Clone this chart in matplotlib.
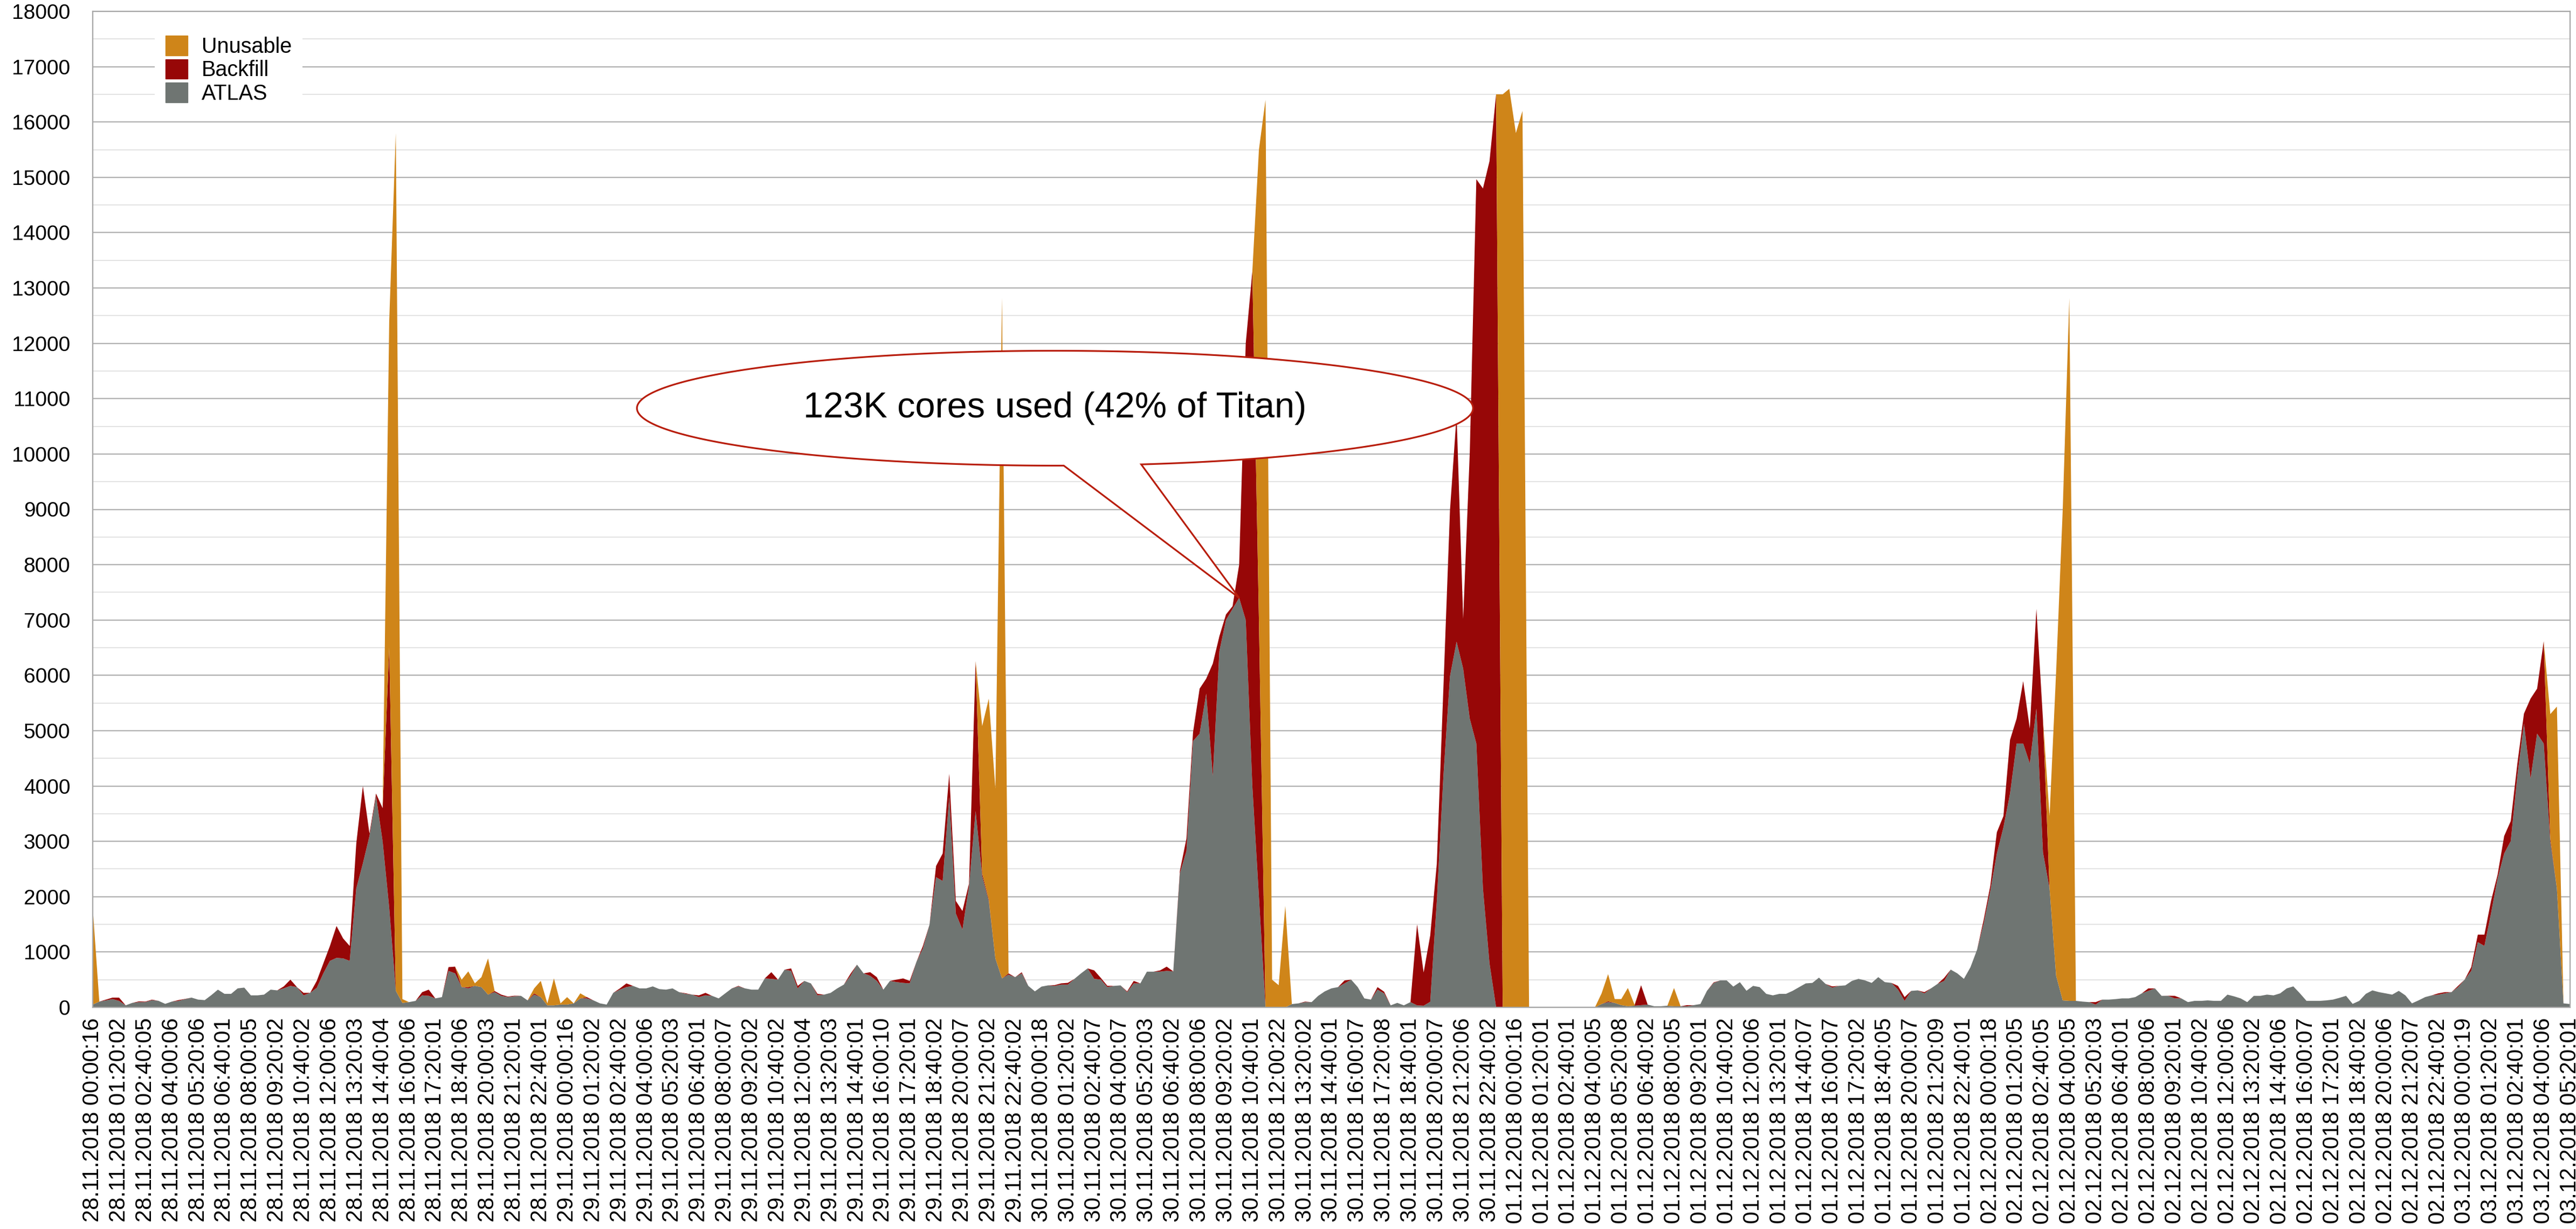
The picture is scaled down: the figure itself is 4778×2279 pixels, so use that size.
import numpy as np
import matplotlib.pyplot as plt
from matplotlib.path import Path
from matplotlib.patches import PathPatch, Patch
from matplotlib.ticker import MultipleLocator

plt.rcParams['font.family'] = ['Liberation Sans', 'DejaVu Sans']

# Titan core usage, one sample every 20 minutes from 28.11.2018 00:00
step_min = 20

atlas = [
    50, 104, 126, 149, 117, 36, 81, 95, 95, 131,
    117, 63, 104, 117, 149, 176, 140, 131, 221, 320,
    244, 244, 343, 357, 217, 217, 230, 320, 307, 343,
    388, 366, 217, 262, 352, 614, 840, 894, 885, 840,
    2149, 2600, 3097, 3819, 3000, 1800, 300, 80, 95, 117,
    217, 208, 162, 185, 659, 614, 366, 343, 390, 366,
    230, 275, 208, 185, 200, 208, 126, 230, 185, 36,
    36, 50, 50, 72, 162, 162, 126, 72, 50, 262,
    320, 366, 388, 343, 343, 379, 330, 320, 343, 275,
    244, 230, 185, 217, 208, 162, 253, 343, 379, 343,
    320, 320, 523, 515, 501, 681, 659, 343, 478, 433,
    217, 230, 262, 343, 411, 569, 772, 614, 569, 478,
    320, 478, 456, 442, 433, 817, 1065, 1494, 2352, 2284,
    3800, 1697, 1404, 2194, 3548, 2374, 1923, 885, 523, 591,
    546, 614, 388, 289, 375, 397, 388, 411, 411, 515,
    614, 704, 515, 501, 366, 388, 397, 275, 433, 433,
    645, 645, 645, 659, 650, 2420, 2826, 4812, 4947, 5670,
    4180, 6437, 7000, 7200, 7400, 7000, 4000, 2000, 0, 0,
    0, 0, 59, 72, 95, 95, 208, 289, 343, 366,
    433, 501, 366, 162, 140, 320, 253, 36, 81, 36,
    95, 36, 30, 100, 1923, 4180, 5986, 6609, 6121, 5218,
    4767, 2149, 794, 0, 0, 0, 0, 0, 0, 0,
    0, 0, 0, 0, 0, 0, 0, 0, 0, 60,
    95, 80, 40, 20, 30, 40, 50, 20, 20, 30,
    20, 20, 20, 40, 60, 298, 440, 487, 487, 375,
    455, 300, 388, 366, 244, 217, 244, 244, 298, 366,
    433, 442, 537, 424, 357, 388, 397, 478, 515, 487,
    442, 546, 456, 442, 320, 117, 298, 307, 253, 343,
    424, 478, 682, 614, 515, 727, 1043, 1517, 2104, 2781,
    3254, 3864, 4767, 4767, 4406, 5400, 2800, 2149, 569, 126,
    117, 117, 104, 95, 50, 140, 140, 149, 162, 162,
    185, 253, 298, 343, 208, 208, 162, 162, 95, 117,
    117, 126, 117, 117, 230, 199, 162, 95, 208, 208,
    230, 217, 253, 343, 379, 253, 117, 117, 117, 126,
    140, 172, 208, 63, 117, 244, 307, 275, 253, 230,
    298, 217, 72, 126, 185, 217, 230, 253, 275, 366,
    501, 659, 1178, 1110, 1697, 2329, 2781, 3006, 4180, 5128,
    4135, 4947, 4767, 3000, 2149, 72, 60,
]

backfill = [
    0, 0, 14, 27, 59, 0, 0, 13, 9, 9,
    0, 0, 0, 14, 4, 0, 0, 0, 0, 0,
    0, 0, 0, 0, 0, 0, 0, 0, 0, 36,
    113, 0, 45, 0, 126, 180, 270, 576, 361, 270,
    812, 1400, 45, 45, 600, 4700, 0, 0, 0, 0,
    58, 112, 0, 0, 68, 122, 0, 23, 0, 0,
    0, 20, 22, 10, 10, 0, 0, 23, 0, 0,
    0, 0, 0, 0, 0, 23, 0, 0, 0, 0,
    22, 67, 0, 0, 0, 0, 0, 0, 0, 0,
    10, 0, 32, 45, 0, 0, 0, 0, 9, 0,
    0, 0, 0, 121, 0, 0, 45, 45, 0, 0,
    27, 0, 0, 0, 0, 36, 0, 0, 67, 68,
    0, 0, 45, 81, 45, 0, 45, 0, 203, 497,
    420, 226, 338, 45, 2708, 46, 22, 0, 0, 23,
    0, 20, 0, 0, 0, 0, 14, 23, 32, 0,
    0, 0, 153, 32, 23, 0, 0, 14, 45, 0,
    0, 0, 23, 77, 0, 45, 225, 158, 813, 270,
    2032, 271, 100, 50, 600, 5000, 9300, 5000, 0, 0,
    0, 0, 0, 0, 9, 0, 0, 0, 0, 0,
    54, 0, 0, 0, 0, 46, 30, 0, 0, 0,
    0, 1464, 600, 1200, 677, 1600, 3000, 4100, 900, 4800,
    10200, 12650, 14500, 16500, 0, 0, 0, 0, 0, 0,
    0, 0, 0, 0, 0, 0, 0, 0, 0, 0,
    15, 0, 0, 0, 0, 360, 0, 0, 0, 0,
    0, 0, 20, 0, 0, 0, 10, 0, 0, 0,
    0, 0, 0, 0, 0, 0, 0, 0, 0, 0,
    0, 0, 0, 0, 22, 0, 0, 0, 0, 0,
    0, 0, 0, 0, 68, 68, 0, 0, 22, 0,
    0, 55, 0, 0, 0, 0, 0, 67, 90, 383,
    204, 970, 451, 1128, 632, 1800, 2400, 0, 0, 0,
    0, 0, 0, 0, 45, 0, 0, 0, 0, 0,
    0, 0, 45, 0, 0, 2, 46, 0, 0, 0,
    0, 0, 0, 0, 0, 0, 0, 0, 0, 0,
    0, 0, 0, 0, 0, 0, 0, 0, 0, 0,
    0, 0, 0, 0, 0, 0, 0, 0, 0, 0,
    0, 0, 0, 0, 0, 0, 23, 22, 0, 22,
    0, 68, 136, 204, 226, 68, 316, 361, 226, 180,
    1444, 813, 1850, 50, 0, 0, 0,
]

unusable = [
    1750, 0, 0, 0, 0, 0, 0, 0, 0, 0, 0, 0, 0, 0, 0, 0, 0, 0, 0, 0,
    0, 0, 0, 0, 0, 0, 0, 0, 0, 0, 0, 0, 0, 0, 0, 0, 0, 0, 0, 0,
    0, 0, 0, 0, 0, 5900, 15500, 70, 0, 0, 0, 0, 0, 0, 0, 0, 135, 284, 45, 180,
    655, 0, 0, 0, 0, 0, 0, 90, 293, 36, 487, 22, 135, 0, 91, 0, 0, 0, 0, 0,
    0, 0, 0, 0, 0, 0, 0, 0, 0, 0, 0, 0, 0, 0, 0, 0, 0, 0, 0, 0,
    0, 0, 0, 0, 0, 0, 0, 0, 0, 0, 0, 0, 0, 0, 0, 0, 0, 0, 0, 0,
    0, 0, 0, 0, 0, 0, 0, 0, 0, 0, 0, 0, 0, 0, 0, 2663, 3634, 3069, 12300, 0,
    0, 0, 0, 0, 0, 0, 0, 0, 0, 0, 0, 0, 0, 0, 0, 0, 0, 0, 0, 0,
    0, 0, 0, 0, 0, 0, 0, 0, 0, 0, 0, 0, 0, 0, 0, 0, 0, 8500, 16400, 500,
    400, 1833, 0, 0, 0, 0, 0, 0, 0, 0, 0, 0, 0, 0, 0, 0, 0, 0, 0, 0,
    0, 0, 0, 0, 0, 0, 0, 0, 0, 0, 0, 0, 0, 0, 16500, 16600, 15800, 16200, 0, 0,
    0, 0, 0, 0, 0, 0, 0, 0, 0, 190, 490, 70, 110, 330, 20, 0, 0, 0, 0, 0,
    330, 0, 0, 0, 0, 0, 0, 0, 0, 0, 0, 0, 0, 0, 0, 0, 0, 0, 0, 0,
    0, 0, 0, 0, 0, 0, 0, 0, 0, 0, 0, 0, 0, 0, 0, 0, 0, 0, 0, 0,
    0, 0, 0, 0, 0, 0, 0, 0, 0, 0, 0, 0, 0, 0, 0, 0, 0, 1309, 5507, 8874,
    12700, 0, 0, 0, 0, 0, 0, 0, 0, 0, 0, 0, 0, 0, 0, 0, 0, 0, 0, 0,
    0, 0, 0, 0, 0, 0, 0, 0, 0, 0, 0, 0, 0, 0, 0, 0, 0, 0, 0, 0,
    0, 0, 0, 0, 0, 0, 0, 0, 0, 0, 0, 0, 0, 0, 0, 0, 0, 0, 0, 0,
    0, 0, 0, 0, 0, 0, 0, 0, 0, 0, 0, 0, 0, 2250, 3286, 0, 0,
]

tick_labels = [
    "28.11.2018 00:00:16", "28.11.2018 01:20:02", "28.11.2018 02:40:05", "28.11.2018 04:00:06",
    "28.11.2018 05:20:06", "28.11.2018 06:40:01", "28.11.2018 08:00:05", "28.11.2018 09:20:02",
    "28.11.2018 10:40:02", "28.11.2018 12:00:06", "28.11.2018 13:20:03", "28.11.2018 14:40:04",
    "28.11.2018 16:00:06", "28.11.2018 17:20:01", "28.11.2018 18:40:06", "28.11.2018 20:00:03",
    "28.11.2018 21:20:01", "28.11.2018 22:40:01", "29.11.2018 00:00:16", "29.11.2018 01:20:02",
    "29.11.2018 02:40:02", "29.11.2018 04:00:06", "29.11.2018 05:20:03", "29.11.2018 06:40:01",
    "29.11.2018 08:00:07", "29.11.2018 09:20:02", "29.11.2018 10:40:02", "29.11.2018 12:00:04",
    "29.11.2018 13:20:03", "29.11.2018 14:40:01", "29.11.2018 16:00:10", "29.11.2018 17:20:01",
    "29.11.2018 18:40:02", "29.11.2018 20:00:07", "29.11.2018 21:20:02", "29.11.2018 22:40:02",
    "30.11.2018 00:00:18", "30.11.2018 01:20:02", "30.11.2018 02:40:07", "30.11.2018 04:00:07",
    "30.11.2018 05:20:03", "30.11.2018 06:40:02", "30.11.2018 08:00:06", "30.11.2018 09:20:02",
    "30.11.2018 10:40:01", "30.11.2018 12:00:22", "30.11.2018 13:20:02", "30.11.2018 14:40:01",
    "30.11.2018 16:00:07", "30.11.2018 17:20:08", "30.11.2018 18:40:01", "30.11.2018 20:00:07",
    "30.11.2018 21:20:06", "30.11.2018 22:40:02", "01.12.2018 00:00:16", "01.12.2018 01:20:01",
    "01.12.2018 02:40:01", "01.12.2018 04:00:05", "01.12.2018 05:20:08", "01.12.2018 06:40:02",
    "01.12.2018 08:00:05", "01.12.2018 09:20:01", "01.12.2018 10:40:02", "01.12.2018 12:00:06",
    "01.12.2018 13:20:01", "01.12.2018 14:40:07", "01.12.2018 16:00:07", "01.12.2018 17:20:02",
    "01.12.2018 18:40:05", "01.12.2018 20:00:07", "01.12.2018 21:20:09", "01.12.2018 22:40:01",
    "02.12.2018 00:00:18", "02.12.2018 01:20:05", "02.12.2018 02:40:05", "02.12.2018 04:00:05",
    "02.12.2018 05:20:03", "02.12.2018 06:40:01", "02.12.2018 08:00:06", "02.12.2018 09:20:01",
    "02.12.2018 10:40:02", "02.12.2018 12:00:06", "02.12.2018 13:20:02", "02.12.2018 14:40:06",
    "02.12.2018 16:00:07", "02.12.2018 17:20:01", "02.12.2018 18:40:02", "02.12.2018 20:00:06",
    "02.12.2018 21:20:07", "02.12.2018 22:40:02", "03.12.2018 00:00:19", "03.12.2018 01:20:02",
    "03.12.2018 02:40:01", "03.12.2018 04:00:06", "03.12.2018 05:20:01",
]

callout_text = "123K cores used (42% of Titan)"

c_atlas = "#6f7572"
c_back = "#970707"
c_unus = "#cf8519"

t = np.arange(len(atlas)) * step_min

W, H = 4778, 2279
fig = plt.figure(figsize=(W / 100, H / 100), dpi=100)
ax = fig.add_axes([172 / W, 1 - 1868 / H, (4767 - 172) / W, (1868 - 21) / H])

ax.stackplot(t, atlas, backfill, unusable, colors=[c_atlas, c_back, c_unus],
             linewidth=0, zorder=2)

ax.set_xlim(0, t[-1])
ax.set_ylim(0, 18000)
ax.set_xticks(t[::4])
ax.set_xticklabels(tick_labels, rotation=90)
ax.set_yticks(range(0, 18001, 1000))
ax.yaxis.set_minor_locator(MultipleLocator(500))

ax.set_axisbelow(True)
ax.grid(which="major", axis="y", color="#b3b3b3", linewidth=1.7)
ax.grid(which="minor", axis="y", color="#dbdbdb", linewidth=1.1)
ax.tick_params(axis="both", which="both", length=0)
ax.tick_params(axis="y", labelsize=28, pad=30)
ax.tick_params(axis="x", labelsize=30, pad=14)
for side in ["left", "right", "bottom", "top"]:
    ax.spines[side].set_color("#a6a6a6")
    ax.spines[side].set_linewidth(1.6)

handles = [Patch(color=c_unus, label="Unusable"),
           Patch(color=c_back, label="Backfill"),
           Patch(color=c_atlas, label="ATLAS")]
ax.legend(handles=handles, loc="upper left",
          bbox_to_anchor=(287 / W, 1 - 46 / H), bbox_transform=fig.transFigure,
          fontsize=28.5, frameon=True, fancybox=False, edgecolor="none",
          facecolor="white", framealpha=1, handlelength=1.05, handleheight=1.05,
          handletextpad=0.65, labelspacing=0.1, borderpad=0.5, borderaxespad=0)

# speech bubble pointing at the ATLAS peak on 30.11
peak = 174
cx, cy = 2921, 10828
a, b = 1269, 1038
ang = np.radians(np.linspace(-78.1, 360 - 88.8, 400))
verts = [(cx + a * np.cos(q), cy + b * np.sin(q)) for q in ang]
verts.append((t[peak], atlas[peak]))
verts.append(verts[0])
codes = [Path.MOVETO] + [Path.LINETO] * (len(verts) - 2) + [Path.CLOSEPOLY]
bubble = PathPatch(Path(verts, codes), facecolor="white", edgecolor="#b81d0c",
                   linewidth=2.3, zorder=5)
ax.add_patch(bubble)
ax.text(cx, cy, callout_text, fontsize=48, ha="center", va="center", zorder=6)

fig.savefig("out.png", dpi=100, facecolor="white")
